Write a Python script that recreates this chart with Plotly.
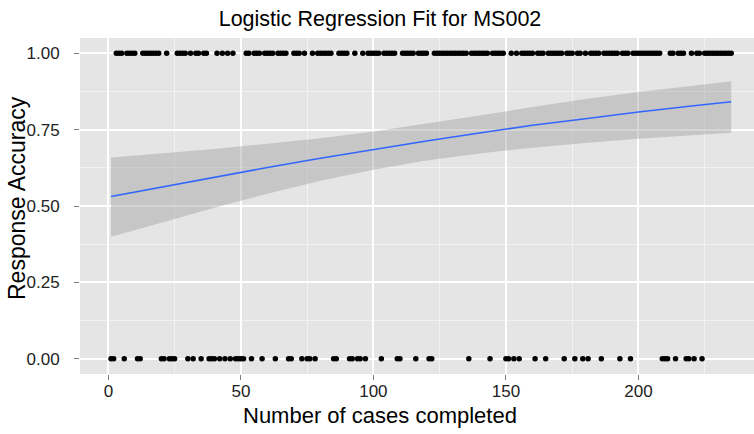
import plotly.graph_objects as go

# Case index and response outcome (1 = correct, 0 = incorrect)
cases = list(range(1, 236))
incorrect_cases = [1, 2, 6, 11, 12, 20, 21, 23, 24, 25, 30, 32, 35, 38, 39, 40,
                   42, 44, 46, 48, 49, 50, 51, 54, 58, 63, 68, 69, 73, 75, 76, 78,
                   85, 86, 91, 92, 94, 95, 97, 103, 109, 110, 116, 121, 122, 136,
                   144, 150, 151, 153, 155, 161, 165, 172, 176, 179, 181, 186, 193,
                   197, 209, 210, 211, 214, 218, 219, 221, 224]
accuracy = [0 if c in incorrect_cases else 1 for c in cases]

# Fitted logistic curve with its 95% confidence band
fit_cases = [1, 20, 40, 60, 80, 100, 120, 140, 160, 180, 200, 220, 235]
fit_prob = [0.531, 0.562, 0.594, 0.626, 0.656, 0.685, 0.713, 0.739, 0.764,
            0.786, 0.808, 0.827, 0.841]
fit_lower = [0.399, 0.445, 0.494, 0.540, 0.583, 0.619, 0.649, 0.672, 0.691,
             0.706, 0.720, 0.732, 0.740]
fit_upper = [0.659, 0.672, 0.687, 0.704, 0.722, 0.744, 0.769, 0.796, 0.824,
             0.850, 0.873, 0.894, 0.908]

x_ticks = [0, 50, 100, 150, 200]
x_tick_text = ["0", "50", "100", "150", "200"]
y_ticks = [0, 0.25, 0.5, 0.75, 1.0]
y_tick_text = ["0.00", "0.25", "0.50", "0.75", "1.00"]

FONT = "Liberation Sans, Arial, Helvetica, sans-serif"

fig = go.Figure()

# confidence band
fig.add_trace(go.Scatter(
    x=fit_cases + fit_cases[::-1],
    y=fit_upper + fit_lower[::-1],
    fill="toself",
    fillcolor="rgba(153,153,153,0.4)",
    line=dict(width=0),
    mode="lines",
    hoverinfo="skip",
    showlegend=False,
))

# observed responses
fig.add_trace(go.Scatter(
    x=cases,
    y=accuracy,
    mode="markers",
    marker=dict(color="black", size=5.5, line=dict(width=0)),
    showlegend=False,
))

# fitted curve
fig.add_trace(go.Scatter(
    x=fit_cases,
    y=fit_prob,
    mode="lines",
    line=dict(color="#3366FF", width=1.5),
    showlegend=False,
))

W, H = 754, 434
L, R, T, B = 80, 0, 38, 60
pw, ph = W - L - R, H - T - B

def px_x(px):
    return (px - L) / pw

def px_y(py):
    return (H - B - py) / ph

fig.update_layout(
    width=W, height=H,
    margin=dict(l=L, r=R, t=T, b=B, pad=0),
    paper_bgcolor="white",
    plot_bgcolor="#E5E5E5",
    title=dict(
        text="Logistic Regression Fit for MS002",
        font=dict(family=FONT, size=21.5, color="black"),
        x=380 / W, xref="container", xanchor="center",
        y=1 - 18 / H, yref="container", yanchor="middle",
    ),
    annotations=[
        dict(text="Number of cases completed", xref="paper", yref="paper",
             x=px_x(380), y=px_y(415), showarrow=False,
             xanchor="center", yanchor="middle",
             font=dict(family=FONT, size=22, color="black")),
        dict(text="Response Accuracy", xref="paper", yref="paper",
             x=px_x(17), y=px_y(198), showarrow=False, textangle=-90,
             xanchor="center", yanchor="middle",
             font=dict(family=FONT, size=23, color="black")),
    ],
)

fig.update_xaxes(
    range=[-10.7, 243.6],
    tickvals=x_ticks, ticktext=x_tick_text,
    ticks="outside", ticklen=5, tickwidth=1.3, tickcolor="#7F7F7F",
    tickfont=dict(family=FONT, size=17, color="#222222"),
    ticklabelstandoff=-3,
    showgrid=True, gridcolor="white", gridwidth=1.6,
    minor=dict(tickvals=[25, 75, 125, 175, 225], showgrid=True,
               gridcolor="#F2F2F2", gridwidth=1, ticks=""),
    zeroline=False, showline=False,
)
fig.update_yaxes(
    range=[-0.05, 1.05],
    tickvals=y_ticks, ticktext=y_tick_text,
    ticks="outside", ticklen=5, tickwidth=1.3, tickcolor="#7F7F7F",
    tickfont=dict(family=FONT, size=17, color="#222222"),
    ticklabelstandoff=11,
    showgrid=True, gridcolor="white", gridwidth=1.6,
    minor=dict(tickvals=[0.125, 0.375, 0.625, 0.875], showgrid=True,
               gridcolor="#F2F2F2", gridwidth=1, ticks=""),
    zeroline=False, showline=False,
)

fig.write_html("out.html")
